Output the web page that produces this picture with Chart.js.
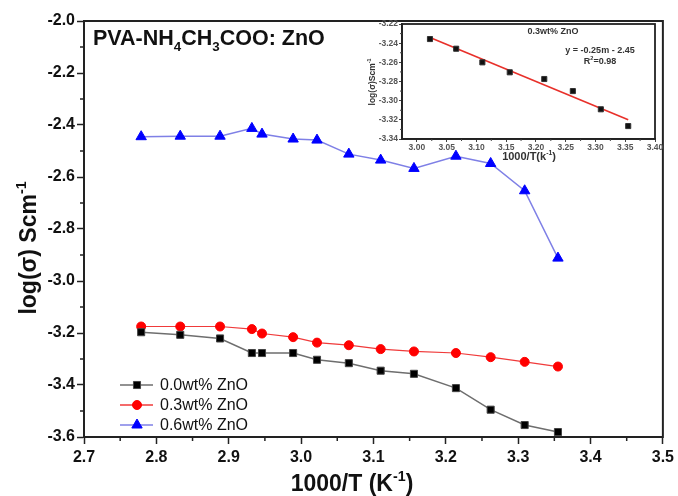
<!DOCTYPE html>
<html>
<head>
<meta charset="utf-8">
<script src="https://cdn.jsdelivr.net/npm/chart.js@4.4.0/dist/chart.umd.min.js"></script>
<style>
    html, body { margin: 0; padding: 0; background: #fff; }
    #wrap { position: relative; width: 678px; height: 496px; }
    #main { position: absolute; left: 0; top: 0; }
    #inset { position: absolute; left: 360px; top: 16px; }
</style>
</head>
<body>
<div id="wrap">
    <canvas id="main" width="678" height="496"></canvas>
    <canvas id="inset" width="310" height="152"></canvas>
</div>
<script>
// main plot data: 1000/T vs log(sigma)
const invT = [2.779, 2.833, 2.888, 2.932, 2.946, 2.989, 3.022, 3.066, 3.110, 3.156, 3.214, 3.262, 3.309, 3.355];
const logSigma00 = [-3.197, -3.207, -3.221, -3.277, -3.277, -3.277, -3.303, -3.316, -3.345, -3.357, -3.412, -3.495, -3.554, -3.581];
const logSigma03 = [-3.175, -3.175, -3.175, -3.185, -3.202, -3.216, -3.237, -3.247, -3.262, -3.271, -3.277, -3.293, -3.311, -3.329];
const logSigma06 = [-2.445, -2.443, -2.443, -2.413, -2.435, -2.454, -2.458, -2.512, -2.535, -2.567, -2.520, -2.548, -2.653, -2.912];
const seriesNames = ['0.0wt% ZnO', '0.3wt% ZnO', '0.6wt% ZnO'];
const xTicks = [2.7, 2.8, 2.9, 3.0, 3.1, 3.2, 3.3, 3.4, 3.5];
const yTicks = [-3.6, -3.4, -3.2, -3.0, -2.8, -2.6, -2.4, -2.2, -2.0];

// inset: 0.3wt% ZnO with linear fit
const insetX = [3.022, 3.066, 3.110, 3.156, 3.214, 3.262, 3.309, 3.355];
const insetY = [-3.2357, -3.2458, -3.2600, -3.2704, -3.2774, -3.2900, -3.3090, -3.3265];
const fitX = [3.022, 3.355];
const fitY = [-3.234, -3.320];
const insetXTicks = [3.00, 3.05, 3.10, 3.15, 3.20, 3.25, 3.30, 3.35, 3.40];
const insetYTicks = [-3.34, -3.32, -3.30, -3.28, -3.26, -3.24, -3.22];

const FONT = "'Liberation Sans', Arial, sans-serif";
const pts = (xs, ys) => xs.map((x, i) => ({ x: x, y: ys[i] }));

// text with sub/superscript pieces: [[text, 'sub'|'sup'|'']]
function drawRich(ctx, parts, x, y, size, weight, align) {
    const small = size * 0.62;
    let total = 0;
    parts.forEach(p => {
        ctx.font = weight + ' ' + (p[1] ? small : size) + 'px ' + FONT;
        total += ctx.measureText(p[0]).width;
    });
    let cx = align === 'center' ? x - total / 2 : x;
    ctx.textAlign = 'left';
    ctx.textBaseline = 'alphabetic';
    parts.forEach(p => {
        ctx.font = weight + ' ' + (p[1] ? small : size) + 'px ' + FONT;
        let dy = 0;
        if (p[1] === 'sub') dy = size * 0.3;
        if (p[1] === 'sup') dy = -size * 0.42;
        ctx.fillText(p[0], cx, y + dy);
        cx += ctx.measureText(p[0]).width;
    });
}

function minorMarks(ctx, scale, vals, len, horizontal, edge) {
    for (let i = 0; i < vals.length - 1; i++) {
        const p = scale.getPixelForValue((vals[i] + vals[i + 1]) / 2);
        ctx.beginPath();
        if (horizontal) { ctx.moveTo(p, edge); ctx.lineTo(p, edge + len); }
        else { ctx.moveTo(edge, p); ctx.lineTo(edge - len, p); }
        ctx.stroke();
    }
}

const mainDecor = {
    id: 'mainDecor',
    afterDraw(chart) {
        const ctx = chart.ctx;
        const a = chart.chartArea;
        ctx.save();
        ctx.strokeStyle = '#222';
        ctx.lineWidth = 2;
        ctx.strokeRect(a.left, a.top, a.right - a.left, a.bottom - a.top);
        ctx.lineWidth = 1.5;
        minorMarks(ctx, chart.scales.x, xTicks, 4, true, a.bottom);
        minorMarks(ctx, chart.scales.y, yTicks, 4, false, a.left);

        // legend
        chart.data.datasets.forEach((ds, i) => {
            const ly = 385 + i * 20;
            ctx.strokeStyle = ds.borderColor;
            ctx.lineWidth = 1.5;
            ctx.beginPath();
            ctx.moveTo(120, ly);
            ctx.lineTo(153, ly);
            ctx.stroke();
            ctx.fillStyle = ds.pointBackgroundColor;
            ctx.strokeStyle = ds.pointBorderColor;
            ctx.lineWidth = ds.pointBorderWidth;
            Chart.helpers.drawPoint(ctx, { pointStyle: ds.pointStyle, radius: ds.pointRadius, borderWidth: ds.pointBorderWidth, rotation: 0 }, 137, ly);
            ctx.fillStyle = '#111';
            ctx.font = '16px ' + FONT;
            ctx.textAlign = 'left';
            ctx.textBaseline = 'middle';
            ctx.fillText(ds.label, 160, ly + 1);
        });

        ctx.fillStyle = '#111';
        drawRich(ctx, [['PVA-NH', ''], ['4', 'sub'], ['CH', ''], ['3', 'sub'], ['COO: ZnO', '']], 93, 45, 21.5, 'bold', 'left');
        drawRich(ctx, [['1000/T (K', ''], ['-1', 'sup'], [')', '']], 352, 491, 23, 'bold', 'center');
        ctx.translate(36, 248);
        ctx.rotate(-Math.PI / 2);
        drawRich(ctx, [['log(\u03C3) Scm', ''], ['-1', 'sup']], 0, 0, 23, 'bold', 'center');
        ctx.restore();
    }
};

new Chart(document.getElementById('main'), {
    type: 'line',
    data: {
        datasets: [
            { label: seriesNames[0], data: pts(invT, logSigma00), borderColor: '#6e6e6e', borderWidth: 1.5,
              pointStyle: 'rect', pointRadius: 5, pointBackgroundColor: '#000', pointBorderColor: '#444', pointBorderWidth: 1 },
            { label: seriesNames[1], data: pts(invT, logSigma03), borderColor: '#f03a3a', borderWidth: 1.2,
              pointStyle: 'circle', pointRadius: 4.5, pointBackgroundColor: '#ff0000', pointBorderColor: '#ff0000', pointBorderWidth: 1 },
            { label: seriesNames[2], data: pts(invT, logSigma06), borderColor: '#7f80e6', borderWidth: 1.5,
              pointStyle: 'triangle', pointRadius: 6, pointBackgroundColor: '#0000ff', pointBorderColor: '#0000ff', pointBorderWidth: 1 }
        ]
    },
    options: {
        responsive: false,
        animation: false,
        layout: { padding: { left: 0, right: 14, top: 21, bottom: 0 } },
        plugins: { legend: { display: false }, tooltip: { enabled: false } },
        scales: {
            x: {
                type: 'linear', min: 2.7, max: 3.5,
                afterBuildTicks: s => { s.ticks = xTicks.map(v => ({ value: v })); },
                afterFit: s => { s.height = 59; },
                grid: { drawOnChartArea: false, tickLength: 7, tickWidth: 1.5, tickColor: '#222' },
                border: { display: true, color: '#222', width: 2 },
                ticks: { color: '#111', padding: 4, maxRotation: 0, autoSkip: false,
                         font: { family: FONT, size: 16, weight: 'bold' },
                         callback: v => v.toFixed(1) }
            },
            y: {
                type: 'linear', min: -3.6, max: -2.0,
                afterBuildTicks: s => { s.ticks = yTicks.map(v => ({ value: v })); },
                afterFit: s => { s.width = 84; },
                grid: { drawOnChartArea: false, tickLength: 7, tickWidth: 1.5, tickColor: '#222' },
                border: { display: true, color: '#222', width: 2 },
                ticks: { color: '#111', padding: 2, autoSkip: false,
                         font: { family: FONT, size: 16, weight: 'bold' },
                         callback: v => v.toFixed(1) }
            }
        }
    },
    plugins: [mainDecor]
});

const insetDecor = {
    id: 'insetDecor',
    afterDraw(chart) {
        const ctx = chart.ctx;
        const a = chart.chartArea;
        ctx.save();
        ctx.strokeStyle = '#222';
        ctx.lineWidth = 1.8;
        ctx.strokeRect(a.left, a.top, a.right - a.left, a.bottom - a.top);
        ctx.lineWidth = 1;
        ctx.strokeStyle = '#444';
        minorMarks(ctx, chart.scales.x, insetXTicks, 2, true, a.bottom);
        minorMarks(ctx, chart.scales.y, insetYTicks, 2, false, a.left);

        ctx.fillStyle = '#333';
        ctx.font = 'bold 9px ' + FONT;
        ctx.textAlign = 'center';
        ctx.textBaseline = 'middle';
        ctx.fillText('0.3wt% ZnO', 193, 16);
        ctx.fillText('y = -0.25m - 2.45', 240, 35);
        drawRich(ctx, [['R', ''], ['2', 'sup'], ['=0.98', '']], 240, 48, 9, 'bold', 'center');
        drawRich(ctx, [['1000/T(k', ''], ['-1', 'sup'], [')', '']], 169, 144, 11, 'bold', 'center');
        ctx.translate(15, 66);
        ctx.rotate(-Math.PI / 2);
        drawRich(ctx, [['log(\u03C3)Scm', ''], ['-1', 'sup']], 0, 0, 8.5, 'bold', 'center');
        ctx.restore();
    }
};

new Chart(document.getElementById('inset'), {
    type: 'line',
    data: {
        datasets: [
            { label: '0.3wt% ZnO', data: pts(insetX, insetY), showLine: false,
              pointStyle: 'rect', pointRadius: 3.6, pointBackgroundColor: '#111', pointBorderColor: '#333', pointBorderWidth: 1 },
            { label: 'fit', data: pts(fitX, fitY), borderColor: '#e8302a', borderWidth: 1.6, pointRadius: 0 }
        ]
    },
    options: {
        responsive: false,
        animation: false,
        layout: { padding: { left: 0, right: 15, top: 8, bottom: 0 } },
        plugins: { legend: { display: false }, tooltip: { enabled: false } },
        scales: {
            x: {
                type: 'linear', min: 2.975, max: 3.40,
                afterBuildTicks: s => { s.ticks = insetXTicks.map(v => ({ value: v })); },
                afterFit: s => { s.height = 29; },
                grid: { drawOnChartArea: false, tickLength: 3, tickWidth: 1, tickColor: '#444' },
                border: { display: true, color: '#222', width: 1.8 },
                ticks: { color: '#555', padding: 1, maxRotation: 0, autoSkip: false,
                         font: { family: FONT, size: 8.5, weight: 'bold' },
                         callback: v => v.toFixed(2) }
            },
            y: {
                type: 'linear', min: -3.34, max: -3.22,
                afterBuildTicks: s => { s.ticks = insetYTicks.map(v => ({ value: v })); },
                afterFit: s => { s.width = 42; },
                grid: { drawOnChartArea: false, tickLength: 3, tickWidth: 1, tickColor: '#444' },
                border: { display: true, color: '#222', width: 1.8 },
                ticks: { color: '#555', padding: 1, autoSkip: false,
                         font: { family: FONT, size: 8.5, weight: 'bold' },
                         callback: v => v.toFixed(2) }
            }
        }
    },
    plugins: [insetDecor]
});
</script>
</body>
</html>
